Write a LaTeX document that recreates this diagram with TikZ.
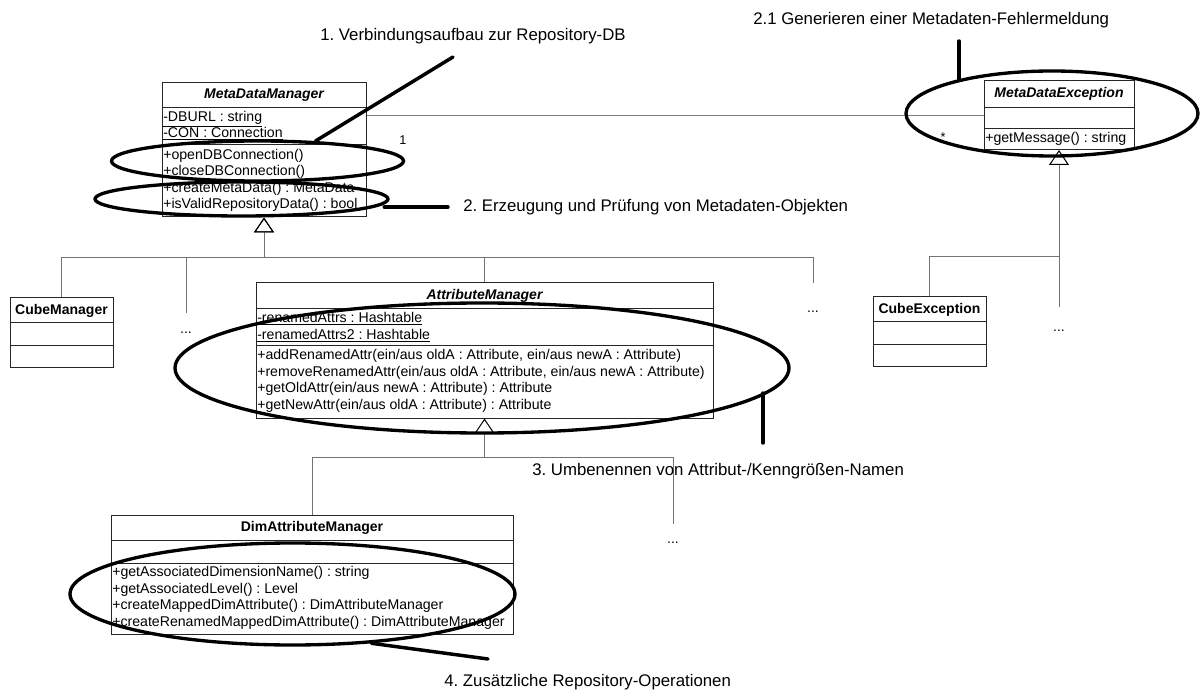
\documentclass[tikz,border=0pt]{standalone}
\usepackage{fontspec}
\setmainfont{Liberation Sans}
\usetikzlibrary{arrows.meta,shapes.geometric,fit}
\frenchspacing
\begin{document}
\begin{tikzpicture}[x=0.75pt,y=-0.75pt,
  cls/.style={draw=black!85, line width=0.75pt, inner sep=0pt},
  divider/.style={draw=black!85, line width=0.75pt},
  row/.style={anchor=west, inner sep=0pt, font=\fontsize{10.6pt}{12pt}\selectfont, text height=7.6pt, text depth=2.2pt},
  ttl/.style={inner sep=0pt, font=\fontsize{10.5pt}{12pt}\selectfont\bfseries, text height=7.6pt, text depth=2.2pt},
  note/.style={anchor=west, inner sep=0pt, font=\fontsize{12.6pt}{15pt}\selectfont},
  oval/.style={ellipse, draw=black, line width=2.5pt, inner sep=0pt},
  pointer/.style={draw=black, line width=2.6pt, line cap=round},
  genline/.style={draw=black!55, line width=0.75pt},
  gen/.style={genline, -{Triangle[open, length=11.25pt, width=15pt, color=black]}},
  assoc/.style={draw=black!50, line width=0.75pt},
  ellip/.style={inner sep=0pt, font=\fontsize{10.5pt}{12pt}\selectfont},
  mult/.style={inner sep=0pt, font=\fontsize{9.5pt}{11pt}\selectfont},
]
\path[use as bounding box] (0,0) rectangle (1200,695);

% ---------- MetaDataManager ----------
\node[cls, fit={(162,83) (366,217)}] (mdm) {};
\draw[divider] (mdm.west |- 0,107.5) -- (mdm.east |- 0,107.5);
\draw[divider] (mdm.west |- 0,144.5) -- (mdm.east |- 0,144.5);
\node[ttl] (mdmT) at (264,95) {\itshape MetaDataManager};
\node[row] (mdmA1) at (163,118) {\underline{-DBURL : string}};
\node[row] (mdmA2) at (163,134) {\underline{-CON : Connection}};
\node[row] (mdmM1) at (163,156) {+openDBConnection()};
\node[row] (mdmM2) at (163,172) {+closeDBConnection()};
\node[row] (mdmM3) at (163,188.5) {+createMetaData() : MetaData};
\node[row] (mdmM4) at (163,205) {+isValidRepositoryData() : bool};

% ---------- MetaDataException ----------
\node[cls, fit={(984,81) (1134,149.5)}] (mde) {};
\draw[divider] (mde.west |- 0,107.3) -- (mde.east |- 0,107.3);
\draw[divider] (mde.west |- 0,129) -- (mde.east |- 0,129);
\node[ttl] (mdeT) at (1059,94) {\itshape MetaDataException};
\node[row] (mdeM1) at (985,139) {+getMessage() : string};

% ---------- CubeManager ----------
\node[cls, fit={(10,298) (113,368)}] (cm) {};
\draw[divider] (cm.west |- 0,323) -- (cm.east |- 0,323);
\draw[divider] (cm.west |- 0,346) -- (cm.east |- 0,346);
\node[ttl] (cmT) at (61.5,310.5) {CubeManager};

% ---------- CubeException ----------
\node[cls, fit={(873,297) (986,367)}] (ce) {};
\draw[divider] (ce.west |- 0,322) -- (ce.east |- 0,322);
\draw[divider] (ce.west |- 0,345) -- (ce.east |- 0,345);
\node[ttl] (ceT) at (929.5,309.5) {CubeException};

% ---------- AttributeManager ----------
\node[cls, fit={(256,283) (713,418)}] (am) {};
\draw[divider] (am.west |- 0,308.5) -- (am.east |- 0,308.5);
\draw[divider] (am.west |- 0,346) -- (am.east |- 0,346);
\node[ttl] (amT) at (484.5,296) {\itshape AttributeManager};
\node[row] (amA1) at (257,318.5) {\underline{-renamedAttrs : Hashtable}};
\node[row] (amA2) at (257,335.5) {\underline{-renamedAttrs2 : Hashtable}};
\node[row] (amM1) at (257,355.5) {+addRenamedAttr(ein/aus oldA : Attribute, ein/aus newA : Attribute)};
\node[row] (amM2) at (257,372.5) {+removeRenamedAttr(ein/aus oldA : Attribute, ein/aus newA : Attribute)};
\node[row] (amM3) at (257,389) {+getOldAttr(ein/aus newA : Attribute) : Attribute};
\node[row] (amM4) at (257,405.5) {+getNewAttr(ein/aus oldA : Attribute) : Attribute};

% ---------- DimAttributeManager ----------
\node[cls, fit={(111,515) (513,634)}] (dam) {};
\draw[divider] (dam.west |- 0,540) -- (dam.east |- 0,540);
\draw[divider] (dam.west |- 0,563) -- (dam.east |- 0,563);
\node[ttl] (damT) at (312,527.5) {DimAttributeManager};
\node[row] (damM1) at (112,573) {+getAssociatedDimensionName() : string};
\node[row] (damM2) at (112,589.5) {+getAssociatedLevel() : Level};
\node[row] (damM3) at (112,606) {+createMappedDimAttribute() : DimAttributeManager};
\node[row] (damM4) at (112,622.5) {+createRenamedMappedDimAttribute() : DimAttributeManager};

% ---------- association ----------
\draw[assoc] (mde.west) -- (mde.west -| mdm.east);
\node[mult] (mult1) at (403,140) {1};
\node[mult] (mult2) at (943,137) {*};

% ---------- generalisations ----------
\coordinate (busM) at (0,257.5);
\coordinate (dotsA) at (186,313);
\coordinate (dotsB) at (813,283);
\draw[genline] (dotsA) |- (mdm.south |- busM);
\draw[genline] (dotsB) |- (mdm.south |- busM);
\draw[gen] (cm.north) |- (mdm.south |- busM) -- (mdm.south);
\draw[gen] (am.north) |- (mdm.south |- busM) -- (mdm.south);
\node[ellip] (dA) at (186,333) {...};
\node[ellip] (dB) at (813,312) {...};

\coordinate (busE) at (0,257);
\coordinate (dotsC) at (1059,307);
\draw[genline] (dotsC) -- (mde.south |- busE);
\draw[gen] (ce.north) |- (mde.south |- busE) -- (mde.south);
\node[ellip] (dC) at (1059,331) {...};

\coordinate (busA) at (0,457);
\coordinate (dotsD) at (673,524);
\draw[genline] (dotsD) |- (am.south |- busA);
\draw[gen] (dam.north) |- (am.south |- busA) -- (am.south);
\node[ellip] (dD) at (673,543) {...};

% ---------- highlighted groups ----------
\node[oval, minimum width=219pt, minimum height=30pt] (e1) at (257.5,161) {};
\node[oval, minimum width=219.75pt, minimum height=25.5pt] (e2) at (241.5,199) {};
\node[oval, minimum width=219pt, minimum height=63.75pt] (e3) at (1052,113.5) {};
\node[oval, minimum width=460.5pt, minimum height=97.5pt] (e4) at (482,368) {};
\node[oval, minimum width=333.75pt, minimum height=76.5pt] (e5) at (292.5,594) {};

% ---------- annotations ----------
\node[note] (n1) at (320,36) {1. Verbindungsaufbau zur Repository-DB};
\node[note] (n2) at (463,207) {2. Erzeugung und Prüfung von Metadaten-Objekten};
\node[note] (n3) at (753,20) {2.1 Generieren einer Metadaten-Fehlermeldung};
\node[note] (n4) at (532,471) {3. Umbenennen von Attribut-/Kenngrößen-Namen};
\node[note] (n5) at (444,682) {4. Zusätzliche Repository-Operationen};

\coordinate (p1) at (453,57);
\coordinate (p2) at (448,207);
\coordinate (p3) at (959,41);
\coordinate (p4) at (763,443);
\coordinate (p5) at (488,659);
\draw[pointer] (e1.19) -- (p1);
\draw[pointer] (e2.-2 |- p2) -- (p2);
\draw[pointer] (e3.161 -| p3) -- (p3);
\draw[pointer] (e4.-5 -| p4) -- (p4);
\draw[pointer] (e5.-32) -- (p5);
\end{tikzpicture}
\end{document}
